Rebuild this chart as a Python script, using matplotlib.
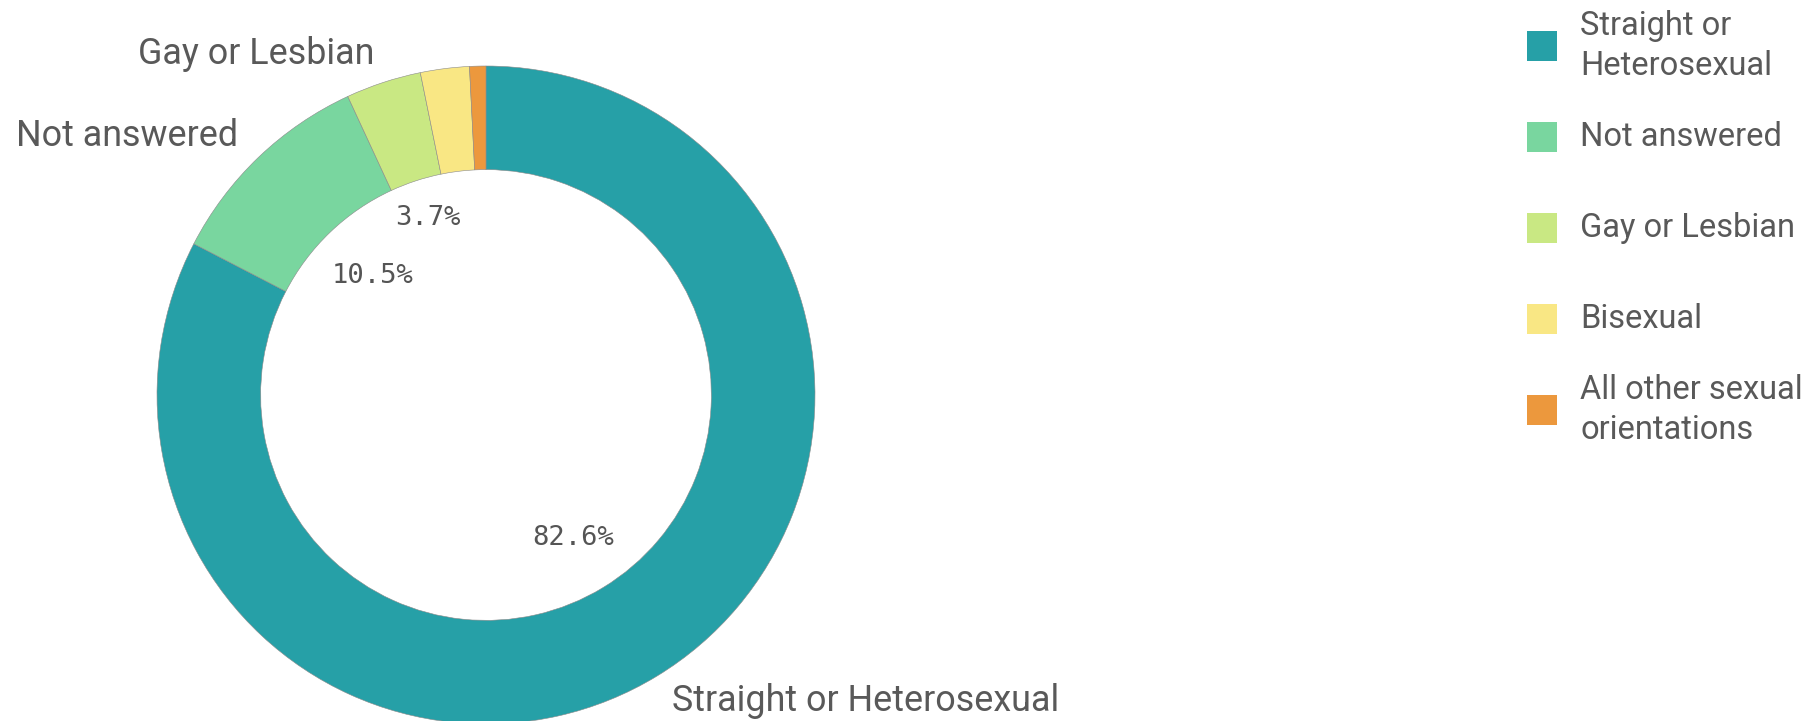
import numpy as np
import matplotlib.pyplot as plt
from matplotlib.patches import Rectangle

categories = ['Straight or Heterosexual', 'Not answered', 'Gay or Lesbian',
              'Bisexual', 'All other sexual orientations']
legend_labels = ['Straight or\nHeterosexual', 'Not answered', 'Gay or Lesbian',
                 'Bisexual', 'All other sexual\norientations']
shares = [82.6, 10.5, 3.7, 2.4, 0.8]
colors = ['#26a0a7', '#79d69f', '#c9e883', '#f9e784', '#ec983d']

W, H = 1809, 721
fig = plt.figure(figsize=(W / 100, H / 100), dpi=100)

# pie geometry in pixels
cx, cy, r_out = 486, 326, 329
ax_w = 1150
ax = fig.add_axes([0, 0, ax_w / W, 1])

# only label the slices big enough, like the original
outer = [c if s >= 3 else '' for c, s in zip(categories, shares)]

wedges, texts, autotexts = ax.pie(
    shares, labels=outer, colors=colors, startangle=90, counterclock=False,
    radius=1.0, labeldistance=1.09, pctdistance=0.52,
    autopct=lambda p: f'{p:.1f}%' if p >= 3 else '',
    wedgeprops=dict(width=0.315, edgecolor='#8a8a8a', linewidth=0.4),
    textprops=dict(fontsize=25.8, color='#595959', family='Roboto'))

# Qlik puts the inner percentages at slightly different radii
pct_dist = [0.51, 0.50, 0.565, 0.52, 0.52]
for w, t, d in zip(wedges, autotexts, pct_dist):
    mid = np.deg2rad((w.theta1 + w.theta2) / 2)
    t.set_position((d * np.cos(mid), d * np.sin(mid)))
    t.set_family('DejaVu Sans Mono')
    t.set_fontsize(19.5)
    t.set_color('#555555')

ax.set_xlim(-cx / r_out, (ax_w - cx) / r_out)
ax.set_ylim(-cy / r_out, (H - cy) / r_out)
ax.set_aspect('auto')
ax.axis('off')

# legend drawn by hand so rows keep fixed spacing
sq = 30
row0, step = 46, 91
for i, (lab, col) in enumerate(zip(legend_labels, colors)):
    yc = row0 + i * step
    fig.patches.append(Rectangle((1527 / W, 1 - (yc + sq / 2) / H), sq / W, sq / H,
                                 transform=fig.transFigure, facecolor=col,
                                 edgecolor='none'))
    fig.text(1580 / W, 1 - yc / H, lab, fontsize=23.5, color='#595959',
             family='Roboto', va='center', ha='left', linespacing=1.35)

fig.savefig('out.png', dpi=100)
